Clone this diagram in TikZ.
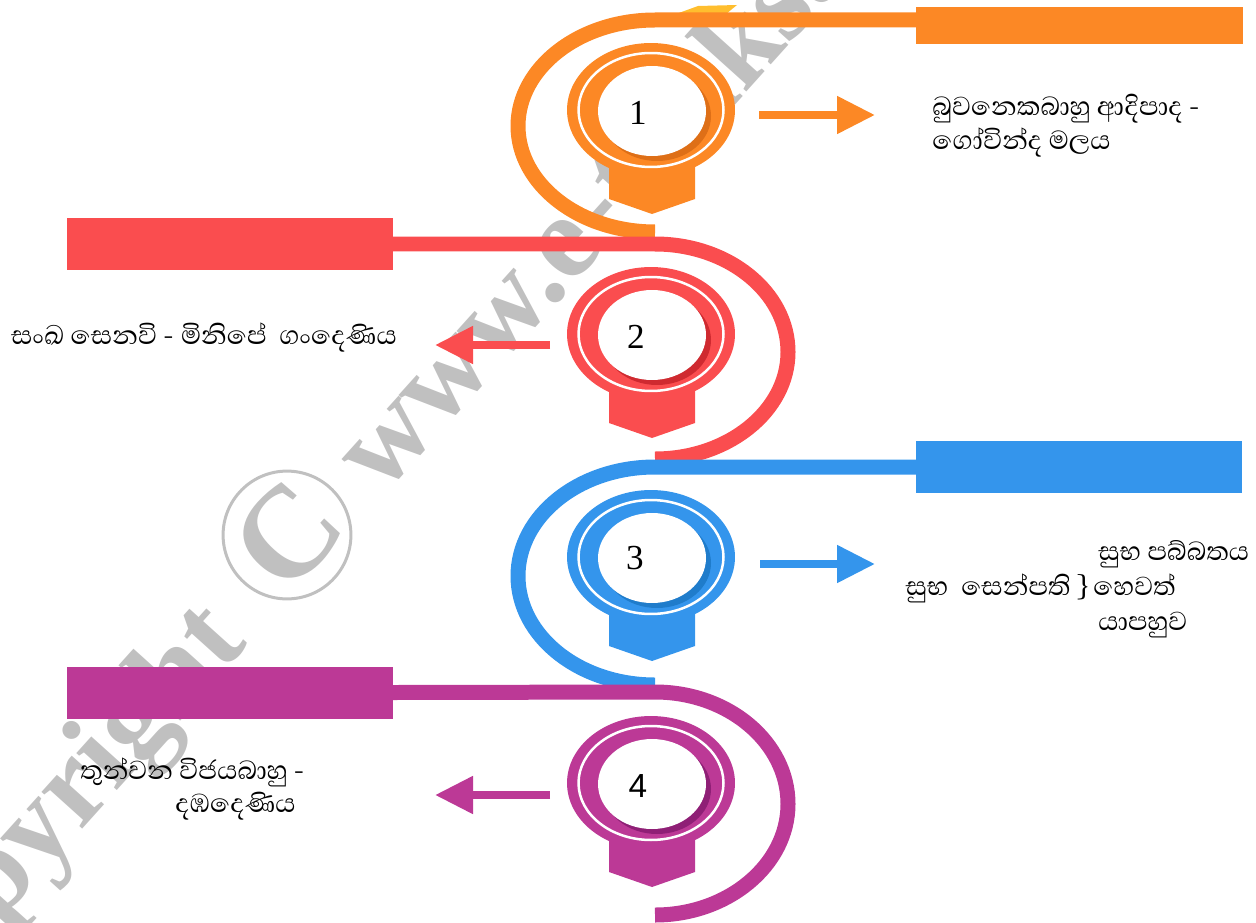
\documentclass[tikz,border=0pt]{standalone}
\usepackage{fontspec}
\setmainfont{Liberation Serif}
\newfontfamily\sinhala[Script=Sinhala]{Abhaya Libre}
\newfontfamily\numsans{Liberation Sans}
\usetikzlibrary{arrows.meta,positioning,shapes.geometric}
\definecolor{orangeA}{HTML}{FC8825}
\definecolor{orangeD}{HTML}{DE6F17}
\definecolor{orangeL}{HTML}{FFBE2E}
\definecolor{redA}{HTML}{FA4D4F}
\definecolor{redD}{HTML}{CF2A30}
\definecolor{blueA}{HTML}{3495EC}
\definecolor{blueD}{HTML}{1F7CCB}
\definecolor{purpA}{HTML}{BC3996}
\definecolor{purpD}{HTML}{8F1F76}
\definecolor{wgray}{HTML}{C0C0C0}
\begin{document}
\begin{tikzpicture}[x=0.02cm, y=-0.02cm,
% common options for the wide bars:
bar/.style = {inner sep=0, outer sep=0, minimum width=6.52cm, minimum height=1.04cm},
% common options for the ribbons:
ribbon/.style = {draw=#1, line width=0.3cm},
% common options for the rings:
ring/.style = {ellipse, inner sep=0, outer sep=0, minimum width=3.36cm, minimum height=2.68cm},
halo/.style = {ellipse, draw=white, line width=0.05cm, inner sep=0, minimum width=2.9cm, minimum height=2.28cm},
face/.style = {ellipse, inner sep=0, outer sep=0, minimum width=2.16cm, minimum height=1.8cm},
digit/.style = {font=\fontsize{20pt}{20pt}\selectfont, inner sep=0},
% common options for the texts:
label/.style = {font=\sinhala\fontsize{19pt}{22pt}\selectfont, inner sep=0, anchor=base west},
pointer/.style = {draw=#1, line width=0.16cm, -{Triangle[length=0.76cm, width=0.72cm]}},
wmark/.style = {text=wgray, font=\bfseries\fontsize{68pt}{68pt}\selectfont, rotate=48, inner sep=0}]
\useasboundingbox (0,0) rectangle (1256,922);
\clip (0,0) rectangle (1256,922);
% watermark
\node[wmark, circle, draw=wgray, line width=0.06cm, minimum size=2.52cm,
  font=\bfseries\fontsize{74pt}{74pt}\selectfont] (cw) at (287,535) {C};
\node[wmark, anchor=base east] (cw1) at (249.5,644) {Copyright};
\node[wmark, anchor=base west] (cw2) at (382,497) {www.e-thaksalawa};
% 1
\fill[orangeL] (676,14) -- (698,6) -- (737,5) -- (726,14) -- cycle;
\node[bar, fill=orangeA, minimum height=0.74cm, minimum width=6.54cm] (bar1) at (1079.5,25.5) {};
\draw[ribbon=orangeA] (bar1.west |- 0,20) -- (655,20) .. controls (579,20) and (518,68) .. (518,126)
  .. controls (518,184) and (579,232) .. (655,232);
\fill[orangeA] (609,160) -- (695,160) -- (695,199) -- (652,214) -- (609,199) -- cycle;
\node[ring, fill=orangeA] (r1) at (651,110) {};
\node[halo] at (r1) {};
\node[face, fill=orangeD] at (657,116) {};
\node[face, fill=white] (f1) at (652,111) {};
\node[digit] (n1) at (638,113) {1};
% 2
\node[bar, fill=redA] (bar2) at (230,244) {};
\draw[ribbon=redA] (bar2.east) -- (655,244) .. controls (728,244) and (788,292) .. (788,352)
  .. controls (788,411) and (728,459) .. (655,459);
\fill[redA] (609,384) -- (695,384) -- (695,423) -- (652,438) -- (609,423) -- cycle;
\node[ring, fill=redA] (r2) at (651,334) {};
\node[halo] at (r2) {};
\node[face, fill=redD] at (657,340) {};
\node[face, fill=white] (f2) at (652,335) {};
\node[digit] (n2) at (636,337) {2};
% 3
\node[bar, fill=blueA] (bar3) at (1079,467) {};
\draw[ribbon=blueA] (bar3.west) -- (655,467) .. controls (579,467) and (518,516) .. (518,576)
  .. controls (518,636) and (579,685) .. (655,685);
\fill[blueA] (609,607) -- (695,607) -- (695,646) -- (652,661) -- (609,646) -- cycle;
\node[ring, fill=blueA] (r3) at (651,557) {};
\node[halo] at (r3) {};
\node[face, fill=blueD] at (657,563) {};
\node[face, fill=white] (f3) at (652,558) {};
\node[digit] (n3) at (635,558) {3};
% 4
\node[bar, fill=purpA] (bar4) at (230,692.5) {};
\draw[ribbon=purpA] (bar4.east) -- (655,692) .. controls (728,692) and (788,742) .. (788,804)
  .. controls (788,865) and (728,915) .. (655,915);
\fill[purpA] (609,833) -- (695,833) -- (695,872) -- (652,887) -- (609,872) -- cycle;
\node[ring, fill=purpA] (r4) at (651,783) {};
\node[halo] at (r4) {};
\node[face, fill=purpD] at (657,789) {};
\node[face, fill=white] (f4) at (652,784) {};
\node[digit, font=\numsans\fontsize{19pt}{19pt}\selectfont] (n4) at (638,786) {4};
% texts
\node[label] (t1a) at (932,116) {බුවනෙකබාහු ආදිපාද -};
\node[label] (t1b) at (932,150) {ගෝවින්ද මලය};
\node[label, anchor=base east] (t2) at (397,344) {සංඛ සෙනවි - මිනිපේ\ \ ගංදෙණිය};
\node[label] (t3a) at (1098,560) {සුභ පබ්බතය};
\node[label, anchor=base east] (t3b) at (1090,595) {සුභ\ \ සෙන්පති \}};
\node[label] (t3c) at (1093,595) {හෙවත්};
\node[label] (t3d) at (1098,630) {යාපහුව};
\node[label] (t4a) at (80,779) {තුන්වන විජයබාහු -};
\node[label] (t4b) at (175,812) {දඹදෙණිය};
% pointers
\coordinate (p1s) at (759,115); \coordinate (p1e) at (875,115);
\coordinate (p2s) at (550,345); \coordinate (p2e) at (435,345);
\coordinate (p3s) at (760,564); \coordinate (p3e) at (875,564);
\coordinate (p4s) at (550,795); \coordinate (p4e) at (435,795);
\draw[pointer=orangeA] (p1s) -- (p1e);
\draw[pointer=redA] (p2s) -- (p2e);
\draw[pointer=blueA] (p3s) -- (p3e);
\draw[pointer=purpA] (p4s) -- (p4e);
\end{tikzpicture}
\end{document}
